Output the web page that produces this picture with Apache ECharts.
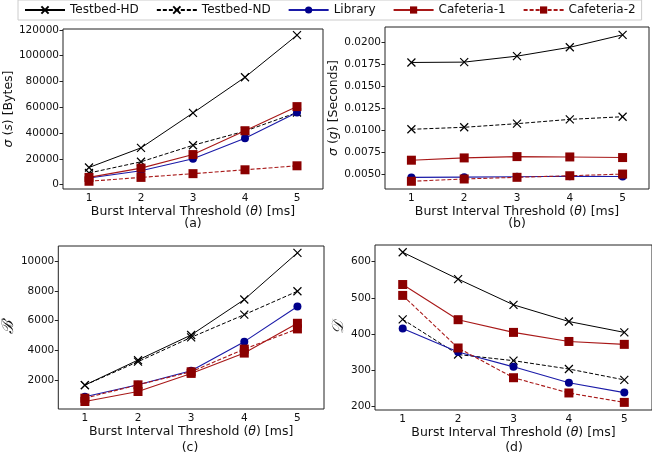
<!DOCTYPE html>
<html>
<head>
<meta charset="UTF-8">
<title>Burst metrics</title>
<script src="https://cdn.jsdelivr.net/npm/echarts@6/dist/echarts.min.js"></script>
<style>
  html, body { margin: 0; padding: 0; background: #fff; }
  #main { width: 652px; height: 462px; }
</style>
</head>
<body>
<div id="main"></div>
<script>
// x categories (burst interval threshold, ms)
var thresholds = ['1', '2', '3', '4', '5'];
var names = ['Testbed-HD', 'Testbed-ND', 'Library', 'Cafeteria-1', 'Cafeteria-2'];

// (a) sigma(s) [Bytes]
var sizeHD   = [13300, 28500, 55600, 83300, 115900];
var sizeND   = [9000, 17700, 30500, 41500, 55900];
var sizeLib  = [5100, 10800, 20000, 35900, 55900];
var sizeCaf1 = [5600, 12800, 23300, 41800, 60500];
var sizeCaf2 = [2600, 5600, 8500, 11500, 14600];
var sizeTicks = [0, 20000, 40000, 60000, 80000, 100000, 120000];

// (b) sigma(g) [Seconds]
var gapHD   = [0.01771, 0.01775, 0.01843, 0.01944, 0.02086];
var gapND   = [0.0101, 0.01033, 0.01074, 0.01123, 0.01153];
var gapLib  = [0.00462, 0.00465, 0.00470, 0.00475, 0.00472];
var gapCaf1 = [0.00658, 0.00684, 0.00699, 0.00695, 0.00688];
var gapCaf2 = [0.00418, 0.00444, 0.00463, 0.00481, 0.0050];
var gapTicks = [0.0050, 0.0075, 0.0100, 0.0125, 0.0150, 0.0175, 0.0200];

// (c) B
var burstHD   = [1640, 3330, 5020, 7410, 10560];
var burstND   = [1640, 3220, 4860, 6390, 7970];
var burstLib  = [850, 1660, 2610, 4570, 6940];
var burstCaf1 = [535, 1210, 2430, 3800, 5810];
var burstCaf2 = [760, 1660, 2540, 4070, 5430];
var burstTicks = [2000, 4000, 6000, 8000, 10000];

// (d) D
var durHD   = [626, 552, 481, 435, 405];
var durND   = [441, 344, 327, 304, 274];
var durLib  = [416, 351, 310, 266, 239];
var durCaf1 = [537, 440, 405, 380, 372];
var durCaf2 = [507, 362, 280, 238, 212];
var durTicks = [200, 300, 400, 500, 600];

var xMark = 'path://M0,0L10,10M10,0L0,10';
var txt = '#111';
var font = 'DejaVu Sans';
var tickFont = 10.5;
var nameFont = 12.5;

var grids = [
  {left: 63, top: 29, width: 260, height: 160, show: true, borderColor: '#222', borderWidth: 1},
  {left: 385, top: 27, width: 264, height: 162, show: true, borderColor: '#222', borderWidth: 1},
  {left: 55, top: 246, width: 269, height: 163, show: true, borderColor: '#222', borderWidth: 1},
  {left: 375, top: 245, width: 281, height: 165, show: true, borderColor: '#222', borderWidth: 1}
];

function xAxisFor(i) {
  return {
    type: 'category', gridIndex: i, data: thresholds, boundaryGap: true,
    axisLine: {show: false},
    axisTick: {alignWithLabel: true, length: 3.5, lineStyle: {color: '#222'}},
    axisLabel: {color: txt, fontSize: tickFont, fontFamily: font, margin: 4},
    name: 'Burst Interval Threshold ({i|θ}) [ms]',
    nameLocation: 'middle', nameGap: 14,
    nameTextStyle: {color: txt, fontSize: nameFont, fontFamily: font,
      rich: {i: {fontStyle: 'italic', fontSize: nameFont, fontFamily: font, color: txt}}}
  };
}

function yAxisFor(i, min, max, ticks, fmt, name, gap, rich) {
  return {
    type: 'value', gridIndex: i, min: min, max: max,
    splitLine: {show: false},
    axisLine: {show: false},
    axisTick: {show: true, length: 3.5, customValues: ticks, lineStyle: {color: '#222'}},
    axisLabel: {color: txt, fontSize: tickFont, fontFamily: font, margin: 4, customValues: ticks, formatter: fmt},
    name: name, nameLocation: 'middle', nameGap: gap, nameRotate: 90,
    nameTextStyle: {color: txt, fontSize: nameFont, fontFamily: font, rich: rich}
  };
}

var italicRich = {i: {fontStyle: 'italic', fontSize: nameFont, fontFamily: font, color: txt}};
var calRich = {c: {fontSize: 16, fontFamily: 'DejaVu Serif', fontStyle: 'italic', color: txt}};

function panelSeries(idx, hd, nd, lib, c1, c2) {
  return [
    {name: names[0], type: 'line', xAxisIndex: idx, yAxisIndex: idx, data: hd,
      symbol: xMark, symbolSize: 8, lineStyle: {color: '#000', width: 1},
      itemStyle: {color: '#000', borderColor: '#000', borderWidth: 1.2}},
    {name: names[1], type: 'line', xAxisIndex: idx, yAxisIndex: idx, data: nd,
      symbol: xMark, symbolSize: 8, lineStyle: {color: '#000', width: 1, type: [4, 2]},
      itemStyle: {color: '#000', borderColor: '#000', borderWidth: 1.2}},
    {name: names[2], type: 'line', xAxisIndex: idx, yAxisIndex: idx, data: lib,
      symbol: 'circle', symbolSize: 8, lineStyle: {color: '#1a1aa8', width: 1.1},
      itemStyle: {color: '#00008b'}},
    {name: names[3], type: 'line', xAxisIndex: idx, yAxisIndex: idx, data: c1,
      symbol: 'rect', symbolSize: 9, lineStyle: {color: '#a81818', width: 1.1},
      itemStyle: {color: '#8b0000'}},
    {name: names[4], type: 'line', xAxisIndex: idx, yAxisIndex: idx, data: c2,
      symbol: 'rect', symbolSize: 9, lineStyle: {color: '#a81818', width: 1.1, type: [4, 2]},
      itemStyle: {color: '#8b0000'}}
  ];
}

var chart = echarts.init(document.getElementById('main'), null, {renderer: 'canvas'});

function panelLabel(t, x, y) {
  return {text: t, left: x, top: y, textAlign: 'center', padding: 0,
    textStyle: {fontSize: nameFont, fontWeight: 'normal', color: txt, fontFamily: font}};
}

var option = {
  animation: false,
  backgroundColor: '#fff',
  textStyle: {fontFamily: font},
  title: [
    panelLabel('(a)', 193, 217),
    panelLabel('(b)', 517, 217),
    panelLabel('(c)', 190, 441),
    panelLabel('(d)', 514, 441)
  ],
  legend: {
    data: names, left: 18, top: 0,
    itemWidth: 40, itemHeight: 9, itemGap: 17,
    padding: [4, 6], borderColor: '#ccc', borderWidth: 1,
    textStyle: {fontSize: 12, color: txt, fontFamily: font}
  },
  grid: grids,
  xAxis: [xAxisFor(0), xAxisFor(1), xAxisFor(2), xAxisFor(3)],
  yAxis: [
    yAxisFor(0, -3400, 120700, sizeTicks, function (v) { return String(Math.round(v)); },
      '{i|σ} ({i|s}) [Bytes]', 43, italicRich),
    yAxisFor(1, 0.0033, 0.02175, gapTicks, function (v) { return v.toFixed(4); },
      '{i|σ} ({i|g}) [Seconds]', 40, italicRich),
    yAxisFor(2, 30, 11020, burstTicks, function (v) { return String(Math.round(v)); },
      '{c|ℬ}', 33, calRich),
    yAxisFor(3, 191, 646, durTicks, function (v) { return String(Math.round(v)); },
      '{c|𝒟}', 24, calRich)
  ],
  series: [].concat(
    panelSeries(0, sizeHD, sizeND, sizeLib, sizeCaf1, sizeCaf2),
    panelSeries(1, gapHD, gapND, gapLib, gapCaf1, gapCaf2),
    panelSeries(2, burstHD, burstND, burstLib, burstCaf1, burstCaf2),
    panelSeries(3, durHD, durND, durLib, durCaf1, durCaf2)
  )
};

chart.setOption(option);
</script>
</body>
</html>
